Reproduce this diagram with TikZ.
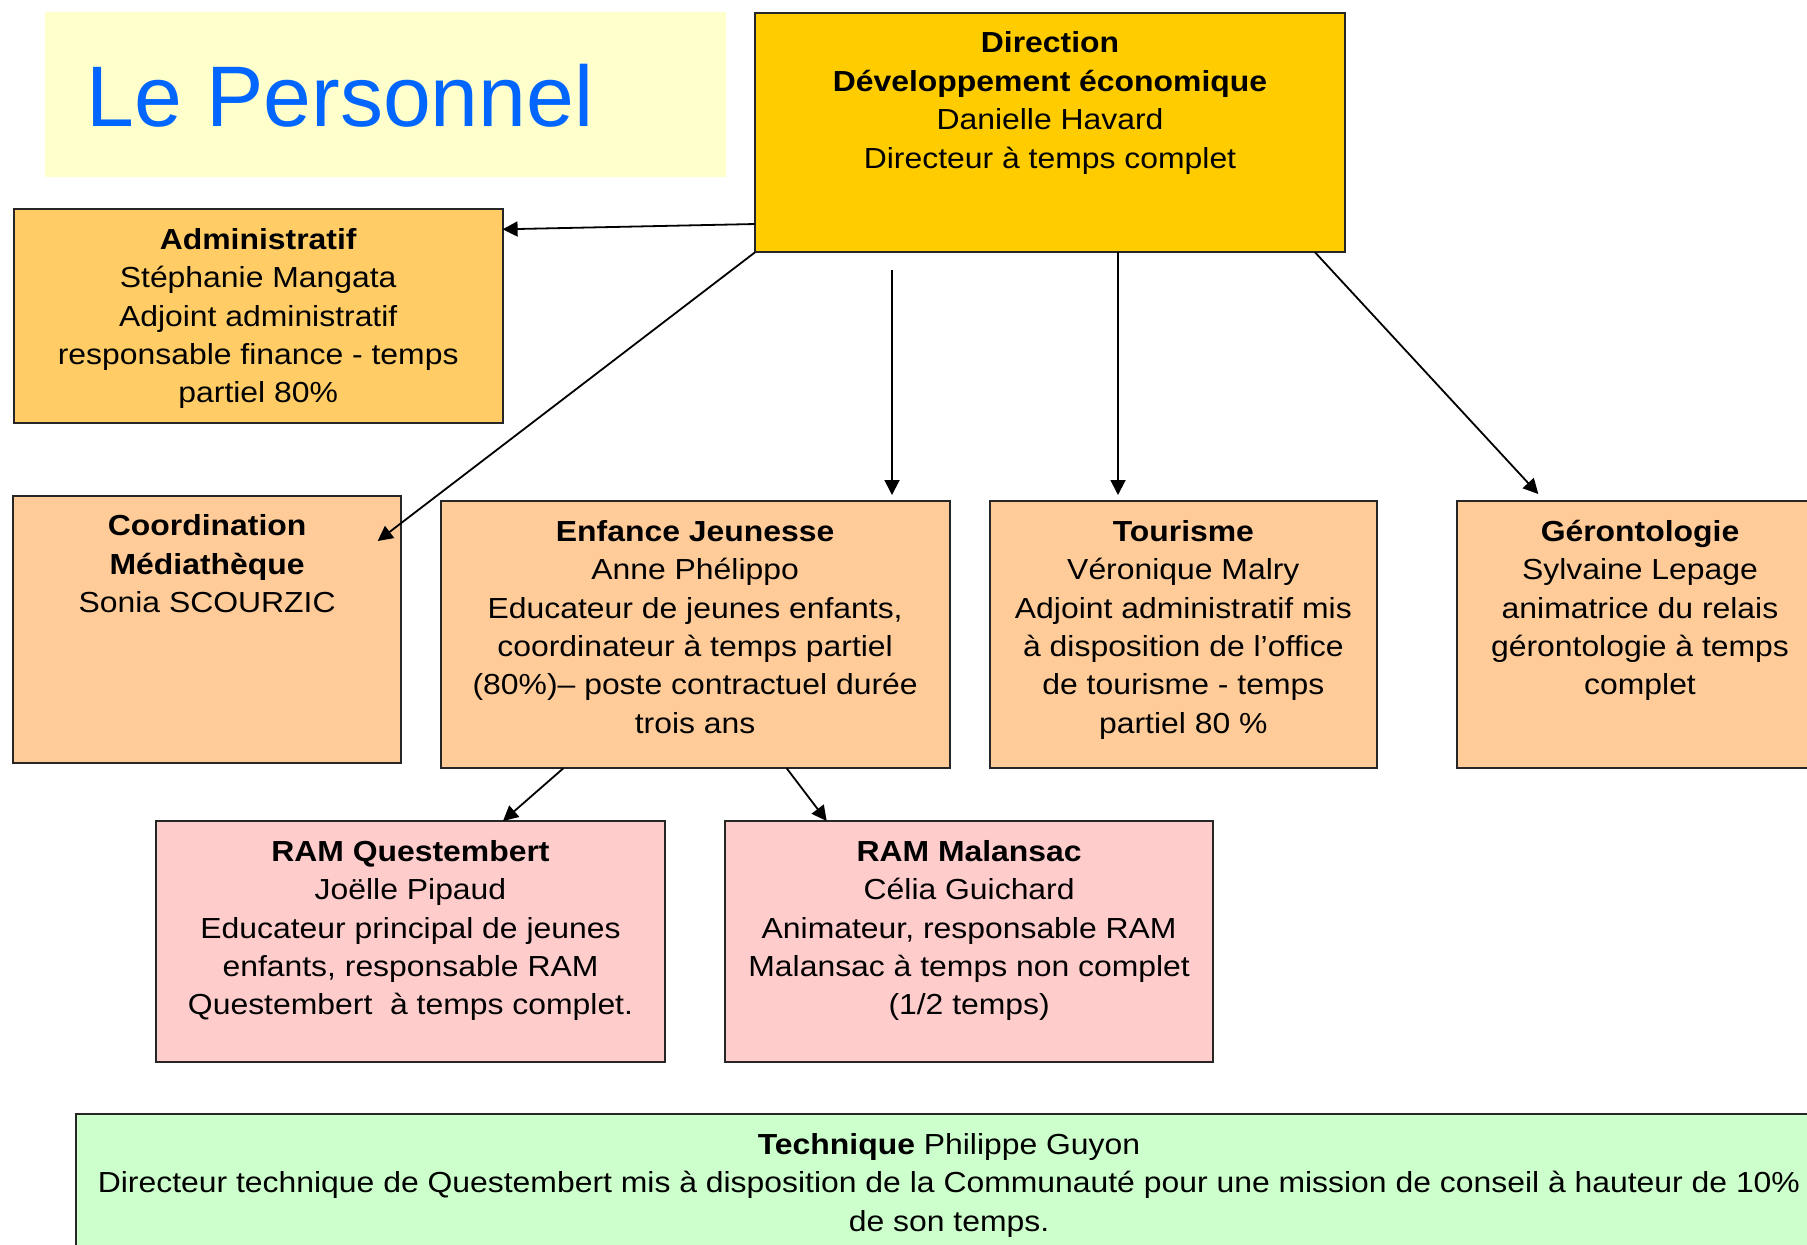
\documentclass[tikz,border=0pt]{standalone}
\usepackage{fontspec}
\setmainfont{Liberation Sans}[FakeStretch=1.1]
\newfontfamily\titlefont{Liberation Sans}
\usetikzlibrary{arrows.meta,calc}
\definecolor{titlebg}{HTML}{FFFFCC}
\definecolor{titleblue}{HTML}{0066FF}
\definecolor{dircol}{HTML}{FFCC00}
\definecolor{admcol}{HTML}{FFCC66}
\definecolor{unitcol}{HTML}{FFCC99}
\definecolor{ramcol}{HTML}{FFCCCC}
\definecolor{techcol}{HTML}{CCFFCC}
\tikzset{
  orgnode/.style={draw=black!85, line width=1pt, inner sep=0pt, outer sep=0pt,
    font=\fontsize{14.5pt}{19.2pt}\selectfont},
  conn/.style={draw=black, line width=0.9pt, -{Triangle[length=7.5pt,width=7.5pt]}}
}
\newcommand\orgbox[7]{%
  \node[orgnode, fill=#6] (#1) at ({(#2+#4)/2},{(#3+#5)/2})
  {\parbox[c][\dimexpr(#5pt-#3pt)/2\relax][t]{\dimexpr(#4pt-#2pt)/2\relax}{\centering\rule{0pt}{20.1pt}#7\par}};}
\begin{document}
\begin{tikzpicture}[x=0.5pt,y=-0.5pt]
\useasboundingbox (0,0) rectangle (1807,1244);
\clip (0,0) rectangle (1807,1244);
\fill[white] (0,0) rectangle (1807,1244);

% title
\node[fill=titlebg, inner sep=0pt, minimum width=340.3pt, minimum height=82.5pt] (titlebox) at (385.3,94.2) {};
\node[anchor=base west, inner sep=0pt, text=titleblue, font=\titlefont\fontsize{43pt}{50pt}\selectfont] (title) at (86.5,126.5) {Le Personnel};

% boxes
\orgbox{dir}{755}{12.7}{1345}{252.3}{dircol}{\textbf{Direction}\\\textbf{Développement économique}\\Danielle Havard\\Directeur à temps complet}
\orgbox{adm}{13.8}{209}{502.6}{422.7}{admcol}{\textbf{Administratif}\\Stéphanie Mangata\\Adjoint administratif\\responsable finance - temps\\partiel 80\%}
\orgbox{coo}{13.3}{495.7}{401}{763.3}{unitcol}{\textbf{Coordination}\\\textbf{Médiathèque}\\Sonia SCOURZIC}
\orgbox{enf}{440.7}{501}{949.6}{768.3}{unitcol}{\textbf{Enfance Jeunesse}\\Anne Phélippo\\Educateur de jeunes enfants,\\coordinateur à temps partiel\\(80\%)– poste contractuel durée\\trois ans}
\orgbox{tou}{990}{501}{1376.7}{768.3}{unitcol}{\textbf{Tourisme}\\Véronique Malry\\Adjoint administratif mis\\à disposition de l’office\\de tourisme - temps\\partiel 80 \%}
\orgbox{ger}{1457.3}{501}{1822.7}{768.3}{unitcol}{\textbf{Gérontologie}\\Sylvaine Lepage\\animatrice du relais\\gérontologie à temps\\complet}
\orgbox{ramq}{156}{821}{665}{1061.7}{ramcol}{\textbf{RAM Questembert}\\Joëlle Pipaud\\Educateur principal de jeunes\\enfants, responsable RAM\\Questembert~ à temps complet.}
\orgbox{ramm}{725}{821}{1213.3}{1061.7}{ramcol}{\textbf{RAM Malansac}\\Célia Guichard\\Animateur, responsable RAM\\Malansac à temps non complet\\(1/2 temps)}
\orgbox{tec}{76}{1114.3}{1822}{1320}{techcol}{\textbf{Technique} Philippe Guyon\\Directeur technique de Questembert mis à disposition de la Communauté pour une mission de conseil à hauteur de 10\%\\de son temps.}

% connectors
\coordinate (a3s) at (892,269.7);
\draw[conn] (dir.west |- 0,224) -- (adm.east |- 0,229.3);
\draw[conn] (dir.south west) -- ($(coo.north east)+(-23.3,45.3)$);
\draw[conn] (a3s) -- ($(enf.north -| 892,0)+(0,-6)$);
\draw[conn] (dir.south -| 1118,0) -- ($(tou.north -| 1118,0)+(0,-6)$);
\draw[conn] ($(dir.south east)+(-30,0)$) -- ($(ger.north west)+(81,-7)$);
\draw[conn] (enf.south -| 563.3,0) -- (ramq.north -| 503,0);
\draw[conn] (enf.south -| 786.7,0) -- (ramm.north -| 826.7,0);
\end{tikzpicture}
\end{document}
